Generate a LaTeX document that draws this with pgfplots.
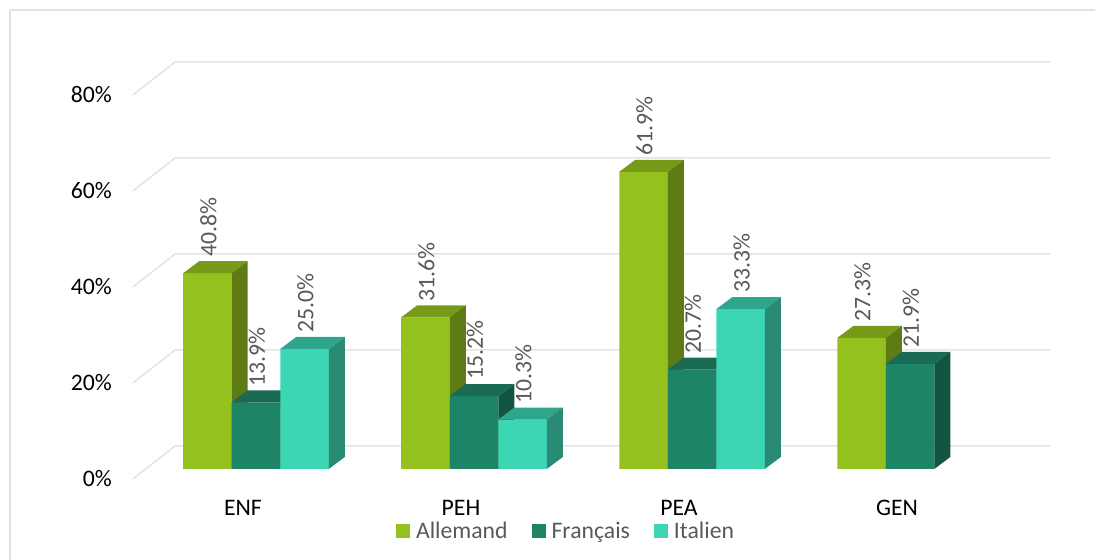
\documentclass[border=0pt]{standalone}
\usepackage{pgfplots}
\usepackage{pgfplotstable}
\pgfplotsset{compat=1.18}
\usepackage{fontspec}
\setmainfont{Carlito}
\definecolor{aFront}{HTML}{95C11F}
\definecolor{aTop}{HTML}{779A19}
\definecolor{aSide}{HTML}{5F7B14}
\definecolor{fFront}{HTML}{1E8466}
\definecolor{fTop}{HTML}{196B53}
\definecolor{fSide}{HTML}{135541}
\definecolor{iFront}{HTML}{3DD6B5}
\definecolor{iTop}{HTML}{2FA68C}
\definecolor{iSide}{HTML}{2A8B74}
\definecolor{gridgray}{HTML}{E3E3E3}
\definecolor{labgray}{HTML}{595959}

\pgfplotstableread{
x v
0 40.8
1 31.6
2 61.9
3 27.3
}\allemand
\pgfplotstableread{
x v
0 13.9
1 15.2
2 20.7
3 21.9
}\francais
\pgfplotstableread{
x v
0 25.0
1 10.3
2 33.3
}\italien

% 3D faces (top and side) of one bar: #1 centre x, #2 value, #3 top colour, #4 side colour
\newcommand{\faces}[4]{%
  \pgfmathsetmacro\xl{#1-0.11125}%
  \pgfmathsetmacro\xr{#1+0.11125}%
  \pgfmathsetmacro\xlb{#1-0.11125+0.0734}%
  \pgfmathsetmacro\xrb{#1+0.11125+0.0734}%
  \pgfmathsetmacro\vt{#2+2.5}%
  \edef\tmp{\noexpand\addplot[fill=#3,draw=none,forget plot] coordinates {(\xl,#2) (\xlb,\vt) (\xrb,\vt) (\xr,#2)};
  \noexpand\addplot[fill=#4,draw=none,forget plot] coordinates {(\xr,0) (\xr,#2) (\xrb,\vt) (\xrb,2.5)};}%
  \tmp}

\newcommand{\lblfont}{\fontsize{23.7}{28}\selectfont}

\pgfplotsset{
  vallabels/.style={draw=none, mark=none, forget plot,
    nodes near coords={\pgfmathprintnumber[assume math mode=true,fixed,fixed zerofill,precision=1]{\pgfplotspointmeta}\%},
    every node near coord/.style={font=\lblfont, text=labgray, inner sep=0pt,
      xshift=1pt, yshift=16pt, rotate=90, anchor=west}},
}

\begin{document}
\begin{tikzpicture}
\begin{axis}[
  x=218pt, y=4.8pt,
  xmin=-0.5, xmax=3.5, ymin=0, ymax=80,
  clip=false,
  axis line style={draw=none},
  major tick length=0pt,
  xtick={0,1,2,3}, xticklabels={ENF,PEH,PEA,GEN},
  ytick={0,20,40,60,80}, yticklabels={0\%,20\%,40\%,60\%,80\%},
  tick label style={font=\lblfont, text=black, inner sep=0pt},
  xticklabel style={anchor=north, xshift=-13pt, yshift=-31pt},
  yticklabel style={anchor=east, xshift=-35pt, yshift=-10pt},
  legend style={at={(0.4794,-0.1615)}, anchor=center, draw=none, fill=none,
    legend columns=-1, font=\lblfont, text=labgray, nodes={inner sep=0pt},
    /tikz/every odd column/.append style={column sep=6pt},
    /tikz/every even column/.append style={column sep=24pt}},
  legend image code/.code={\fill[#1] (0pt,-7pt) rectangle (14pt,7pt);},
  bar width=0.2225,
]
% back-wall grid lines
\addplot[gridgray, line width=1.5pt, forget plot] coordinates {(-0.5642,-2.083) (-0.3716,4.792) (3.6422,4.792)};
\addplot[gridgray, line width=1.5pt, forget plot] coordinates {(-0.5642,17.917) (-0.3716,24.792) (3.6422,24.792)};
\addplot[gridgray, line width=1.5pt, forget plot] coordinates {(-0.5642,37.917) (-0.3716,44.792) (3.6422,44.792)};
\addplot[gridgray, line width=1.5pt, forget plot] coordinates {(-0.5642,57.917) (-0.3716,64.792) (3.6422,64.792)};
\addplot[gridgray, line width=1.5pt, forget plot] coordinates {(-0.5642,77.917) (-0.3716,84.792) (3.6422,84.792)};

% Allemand
\addplot[ybar, bar shift=-0.2225, fill=aFront, draw=none] table[x=x,y=v] {\allemand};
\addlegendentry{Allemand}
\faces{-0.2225}{40.8}{aTop}{aSide}
\faces{0.7775}{31.6}{aTop}{aSide}
\faces{1.7775}{61.9}{aTop}{aSide}
\faces{2.7775}{27.3}{aTop}{aSide}

% Francais
\addplot[ybar, bar shift=0, fill=fFront, draw=none] table[x=x,y=v] {\francais};
\addlegendentry{Français}
\faces{0}{13.9}{fTop}{fSide}
\faces{1}{15.2}{fTop}{fSide}
\faces{2}{20.7}{fTop}{fSide}
\faces{3}{21.9}{fTop}{fSide}

% Italien
\addplot[ybar, bar shift=0.2225, fill=iFront, draw=none] table[x=x,y=v] {\italien};
\addlegendentry{Italien}
\faces{0.2225}{25.0}{iTop}{iSide}
\faces{1.2225}{10.3}{iTop}{iSide}
\faces{2.2225}{33.3}{iTop}{iSide}

% value labels
\addplot[vallabels] table[x expr=\thisrow{x}-0.2225, y=v] {\allemand};
\addplot[vallabels] table[x=x, y=v] {\francais};
\addplot[vallabels] table[x expr=\thisrow{x}+0.2225, y=v] {\italien};

\coordinate (TL) at (axis cs:-1.17431,97.7083);
\coordinate (BR) at (axis cs:3.84862,-18.9583);
\end{axis}
\pgfresetboundingbox
\useasboundingbox (TL) rectangle (BR);
\draw[gridgray, line width=1.5pt] ([xshift=10pt,yshift=-10pt]TL) rectangle ([xshift=20pt,yshift=-20pt]BR);
\end{tikzpicture}
\end{document}
